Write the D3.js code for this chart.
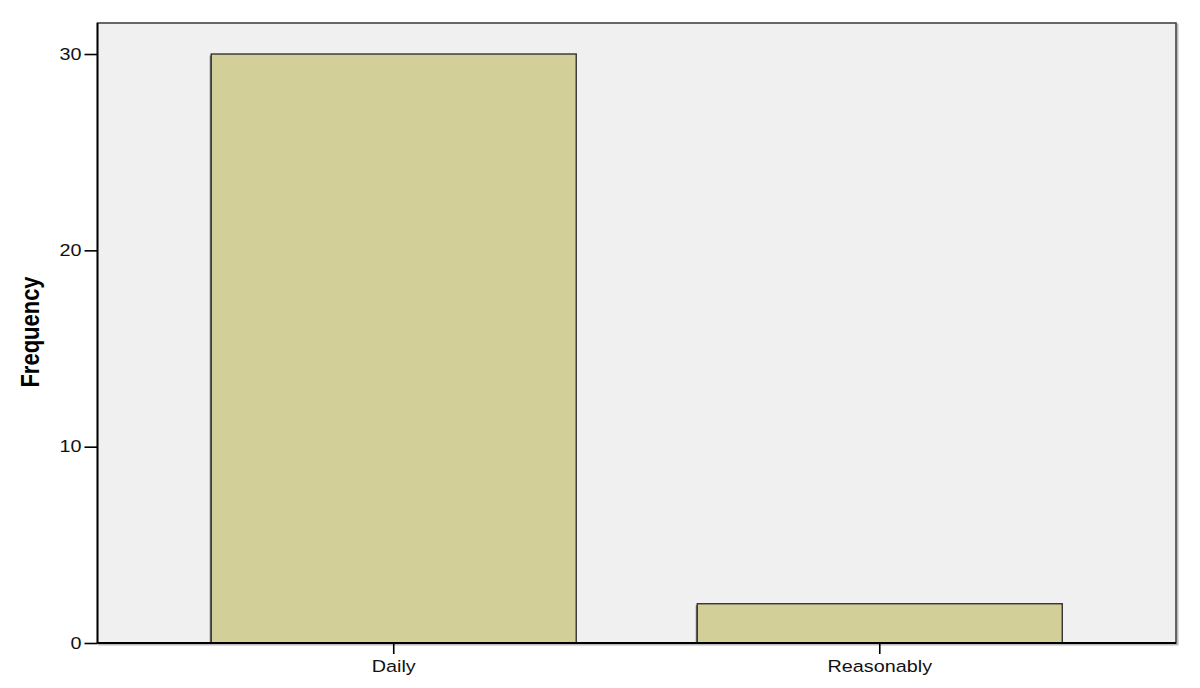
<!DOCTYPE html>
<html><head><meta charset="utf-8">
<script src="https://cdn.jsdelivr.net/npm/d3@7"></script>
<style>body{margin:0;background:#fff}svg{display:block}</style>
</head><body>
<svg id="c" width="1200" height="688"></svg>
<script>
const categories = ["Daily", "Reasonably"];
const frequencies = [30, 2];
const yTicks = [0, 10, 20, 30];
const yLabel = "Frequency";

const svg = d3.select("#c");
const L = 97.5, R = 1176, T = 23, B = 643;
const font = "'Liberation Sans', Arial, sans-serif";

const x = d3.scaleBand().domain(categories).range([L, R]).paddingInner(0.249).paddingOuter(0.234);
const y = d3.scaleLinear().domain([0, 31.58]).range([B, T]);

// plot background + frame (with shadow)
svg.append("rect").attr("x", L + 1.5).attr("y", T + 1.5).attr("width", R - L).attr("height", B - T)
  .attr("fill", "none").attr("stroke", "#bbb").attr("stroke-width", 2);
svg.append("rect").attr("x", L).attr("y", T).attr("width", R - L).attr("height", B - T)
  .attr("fill", "#f0f0f0").attr("stroke", "#444").attr("stroke-width", 1.6);

// bars
const g = svg.append("g");
g.selectAll("rect.shadow").data(categories).join("rect")
  .attr("x", d => x(d) - 1.5).attr("y", (d, i) => y(frequencies[i]) + 1.5)
  .attr("width", 3).attr("height", (d, i) => B - y(frequencies[i]) - 1.5)
  .attr("fill", "#777");
g.selectAll("rect.bar").data(categories).join("rect")
  .attr("x", d => x(d)).attr("y", (d, i) => y(frequencies[i]))
  .attr("width", x.bandwidth()).attr("height", (d, i) => B - y(frequencies[i]))
  .attr("fill", "#d3cf98").attr("stroke", "#333").attr("stroke-width", 1.4);

// axes
const yAxis = svg.append("g").attr("transform", `translate(${L},0)`)
  .call(d3.axisLeft(y).tickValues(yTicks).tickSize(13).tickSizeOuter(0).tickPadding(3).tickFormat(d3.format("d")));
const xAxis = svg.append("g").attr("transform", `translate(0,${B})`)
  .call(d3.axisBottom(x).tickSize(11).tickPadding(6).tickSizeOuter(0));
[yAxis, xAxis].forEach(a => {
  a.select(".domain").attr("stroke", "#000").attr("stroke-width", 1.8);
  a.selectAll(".tick line").attr("stroke", "#000").attr("stroke-width", 1.6);
  a.selectAll(".tick text").attr("fill", "#111").style("font-family", font).style("font-size", "16.5px");
});
yAxis.select(".domain").attr("d", `M0,${B}V${T}`);
xAxis.select(".domain").attr("d", `M${L},0H${R}`);
// horizontal stretch of the texts
yAxis.selectAll(".tick text").attr("x", 0).attr("text-anchor", "end")
  .attr("transform", "translate(-16,0) scale(1.2,1)");
xAxis.selectAll(".tick text").attr("transform", "scale(1.2,1)").attr("x", 0);

// y label
svg.append("text").attr("transform", "translate(30,332) scale(1.2,1) rotate(-90)")
  .attr("text-anchor", "middle").attr("dy", "0.35em")
  .style("font-family", font).style("font-size", "22px").style("font-weight", "bold")
  .attr("fill", "#000").text(yLabel);
</script>
</body></html>
